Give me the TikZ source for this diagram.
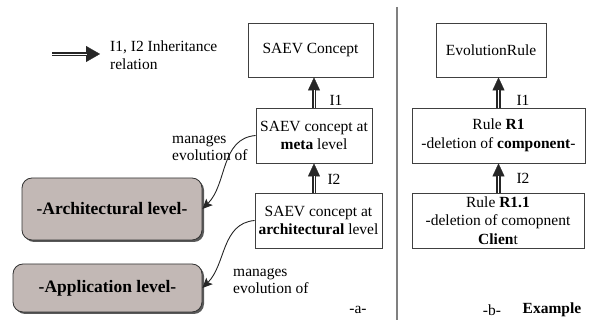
\documentclass[tikz,border=0pt]{standalone}
\usepackage{fontspec}
\setmainfont{Liberation Serif}
\usetikzlibrary{arrows.meta,shadows}

\definecolor{taupe}{RGB}{194,184,181}

\begin{document}
\begin{tikzpicture}[x=1pt,y=1pt]

\tikzstyle concept=[draw=black!75, line width=0.8pt, fill=white, inner sep=0pt, align=center, font=\fontsize{15.5}{18.5}\selectfont]
\tikzstyle layer=[draw=black!80, line width=0.8pt, rounded corners=10pt, fill=taupe, drop shadow={shadow xshift=2pt, shadow yshift=-2pt, fill=black!65, opacity=1}, font=\fontsize{17.5}{20}\selectfont\bfseries]
\tikzstyle inherit=[draw=black!85, line width=4.6pt, -{Triangle[length=13pt, width=12pt, line width=0.3pt]}, postaction={draw=white, line width=0.7pt, -, shorten >=13pt}]
\tikzstyle manage=[draw=black!85, line width=0.9pt, -{Stealth[length=10pt, width=9pt, inset=2pt]}]
\tikzstyle txt=[inner sep=0pt, align=left, font=\fontsize{15.5}{17.5}\selectfont]

\useasboundingbox (0,0) rectangle (597,320);

% legend
\coordinate (la) at (52,266);
\coordinate (lb) at (100,266);
\draw [inherit, -{Triangle[length=14pt, width=16pt, line width=0.3pt]}, postaction={draw=white, line width=0.7pt, -, shorten >=14pt}] (la) -- (lb);
\node (legend) [txt, anchor=west] at (110,265) {I1, I2 Inheritance\\relation};

% -a- SAEV concepts
\node (c0) [concept, minimum width=125pt, minimum height=54pt] at (310.5,270) {SAEV Concept};
\node (c1) [concept, minimum width=116pt, minimum height=55pt] at (314,184.5) {SAEV concept at\\\textbf{meta} level};
\node (c2) [concept, minimum width=127pt, minimum height=55pt] at (318.5,99.5) {SAEV concept at\\\textbf{architectural} level};

\node (archlvl) [layer, minimum width=180pt, minimum height=62pt] at (112,111) {-Architectural level-};
\node (applvl) [layer, minimum width=189pt, minimum height=48pt] at (107.5,32) {-Application level-};

\draw [inherit] (c1.north) -- (c1.north |- c0.south);
\draw [inherit] (c1.south |- c2.north) -- (c1.south);
\node (i1a) [txt] at (336,220) {I1};
\node (i2a) [txt] at (334,141) {I2};

\draw [manage] (c1.west) to[out=185, in=45] (archlvl.east);
\draw [manage] (c2.west) to[out=185, in=45] (applvl.east);
\node (m1) [txt, anchor=west] at (172,172) {manages\\evolution of};
\node (m2) [txt, anchor=west] at (233,39) {manages\\evolution of};

% separator
\draw [black!50, line width=1.2pt] (397,313) -- (397,0);

% -b- example
\node (r0) [concept, minimum width=110pt, minimum height=54pt] at (491,270) {EvolutionRule};
\node (r1) [concept, minimum width=173pt, minimum height=55pt] at (498.5,184.5) {Rule \textbf{R1}\\-deletion of \textbf{component}-};
\node (r2) [concept, minimum width=172pt, minimum height=55pt] at (498,99.5) {Rule \textbf{R1.1}\\-deletion of comopnent\\\textbf{Clien}t};

\draw [inherit] (r1.north) -- (r1.north |- r0.south);
\draw [inherit] (r1.south |- r2.north) -- (r1.south);
\node (i1b) [txt] at (523,220) {I1};
\node (i2b) [txt] at (523,142) {I2};

% captions
\node (capa) [txt] at (358,10) {-a-};
\node (capb) [txt] at (492,10) {-b-};
\node (capx) [txt, font=\fontsize{15.5}{17.5}\selectfont\bfseries] at (552,10) {Example};

\end{tikzpicture}
\end{document}
